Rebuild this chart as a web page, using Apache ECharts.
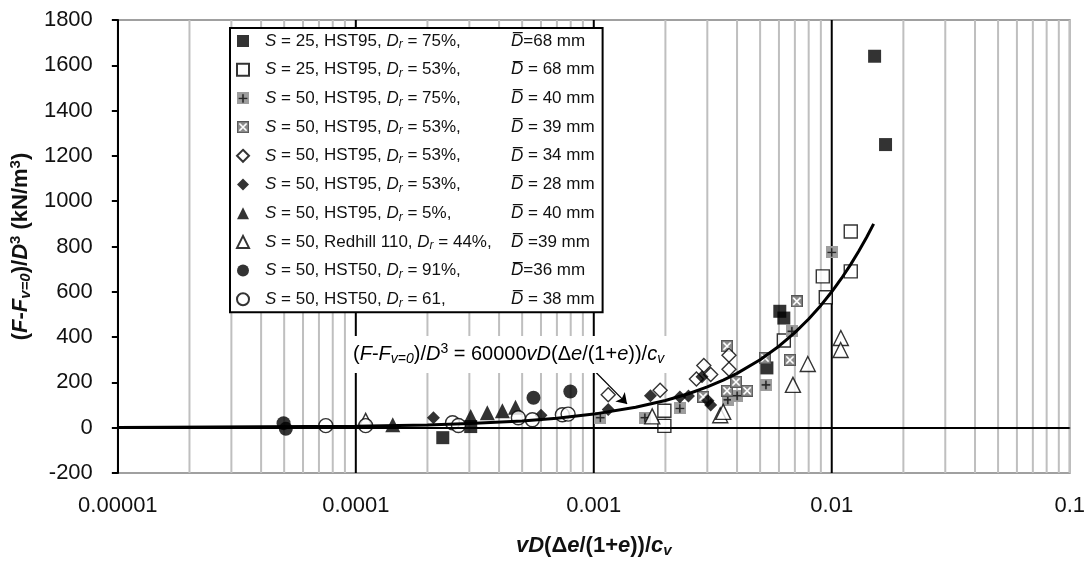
<!DOCTYPE html>
<html>
<head>
<meta charset="utf-8">
<script src="https://cdn.jsdelivr.net/npm/echarts@6/dist/echarts.min.js"></script>
<style>
  html, body { margin: 0; padding: 0; background: #fff; }
  #chart { width: 1088px; height: 563px; }
</style>
</head>
<body>
<div id="chart"></div>
<script>
// Axis ticks
const xTickLabels = ['0.00001', '0.0001', '0.001', '0.01', '0.1'];
const yMin = -200, yMax = 1800, yStep = 200;

// Legend text pieces, one entry per series
const legendS    = ['25', '25', '50', '50', '50', '50', '50', '50', '50', '50'];
const legendSoil = ['HST95', 'HST95', 'HST95', 'HST95', 'HST95', 'HST95', 'HST95', 'Redhill 110', 'HST50', 'HST50'];
const legendDr   = ['75%,', '53%,', '75%,', '53%,', '53%,', '53%,', '5%,', '44%,', '91%,', '61,'];
const legendDbar = ['=68 mm', ' = 68 mm', ' = 40 mm', ' = 39 mm', ' = 34 mm', ' = 28 mm', ' = 40 mm', ' =39 mm', '=36 mm', ' = 38 mm'];

// Measured points [vD(Δe/(1+e))/c_v, (F-F_v=0)/D^3]
const s25Hst95Dr75 = [[0.000232, -44], [0.000304, 5], [0.00534, 264], [0.00605, 514], [0.00629, 484], [0.01514, 1640], [0.01683, 1250]];
const s25Hst95Dr53 = [[0.00198, 75], [0.00198, 8], [0.00629, 385], [0.00917, 668], [0.00944, 576], [0.01202, 866], [0.01202, 690]];
const s50Hst95Dr75 = [[0.001065, 44], [0.00164, 44], [0.0023, 85], [0.00366, 123], [0.004, 141], [0.00529, 189], [0.0068, 426], [0.0100, 774]];
const s50Hst95Dr53D39 = [[0.00288, 136], [0.00363, 360], [0.00363, 163], [0.00396, 202], [0.00441, 163], [0.00524, 308], [0.00667, 299], [0.00713, 558]];
const s50Hst95Dr53D34 = [[0.00115, 145], [0.0019, 165], [0.0027, 215], [0.0029, 275], [0.0031, 235], [0.0037, 320], [0.0037, 258]];
const s50Hst95Dr53D28 = [[0.000212, 44], [0.0006, 55], [0.00115, 80], [0.00173, 141], [0.0023, 136], [0.0025, 140], [0.00285, 225], [0.00302, 119], [0.0031, 100]];
const s50Hst95Dr5 = [[0.000143, 13], [0.000304, 50], [0.000357, 66], [0.000413, 75], [0.000469, 90]];
const s50Redhill110 = [[0.00011, 30], [0.00176, 50], [0.0034, 55], [0.0035, 70], [0.00687, 189], [0.00793, 281], [0.01092, 396], [0.0109, 343]];
const s50Hst50Dr91 = [[0.0000497, 20], [0.0000508, -5], [0.000558, 132], [0.000797, 160]];
const s50Hst50Dr61 = [[0.0000748, 9], [0.00011, 9], [0.000255, 22], [0.00027, 10], [0.000482, 44], [0.000552, 35], [0.000738, 57], [0.00078, 60]];

// Fitted relation (F-F_v=0)/D^3 = 60000 vD(Δe/(1+e))/c_v
const fitX = [0.00001, 0.0001, 0.0002, 0.0003, 0.0005, 0.0007, 0.001, 0.0015, 0.002, 0.0025, 0.003, 0.0035, 0.004, 0.005, 0.006, 0.007, 0.008, 0.009, 0.01, 0.011, 0.012, 0.013, 0.014, 0.015];
const fitY = [0.6, 6, 12, 18, 30, 42, 60, 90, 120, 150, 180, 210, 240, 300, 360, 420, 480, 540, 600, 660, 720, 780, 840, 900];

// Callout arrow from the equation to the fitted line
const arrowFrom = [0.00102, 245];
const arrowTo = [0.00138, 105];

// Gridline positions on the log axis
const minorGridX = [
  2e-5, 3e-5, 4e-5, 5e-5, 6e-5, 7e-5, 8e-5, 9e-5,
  2e-4, 3e-4, 4e-4, 5e-4, 6e-4, 7e-4, 8e-4, 9e-4,
  2e-3, 3e-3, 4e-3, 5e-3, 6e-3, 7e-3, 8e-3, 9e-3,
  2e-2, 3e-2, 4e-2, 5e-2, 6e-2, 7e-2, 8e-2, 9e-2, 1e-1
];
const majorGridX = [1e-4, 1e-3, 1e-2];

const FONT = '"Liberation Sans", Arial, Helvetica, sans-serif';
const INK = '#111';

// Composite marker images (gray square with a cross / with an X)
function markerImage(kind) {
  const s = 36, c = document.createElement('canvas');
  c.width = s; c.height = s;
  const g = c.getContext('2d');
  if (kind === 'plus') {
    g.fillStyle = '#9d9d9d';
    g.fillRect(0, 0, s, s);
    g.strokeStyle = '#262626';
    g.lineWidth = 4.5;
    g.beginPath();
    g.moveTo(s / 2, 5); g.lineTo(s / 2, s - 5);
    g.moveTo(5, s / 2); g.lineTo(s - 5, s / 2);
    g.stroke();
  } else {
    g.fillStyle = '#8a8a8a';
    g.fillRect(0, 0, s, s);
    g.strokeStyle = '#ffffff';
    g.lineWidth = 5;
    g.beginPath();
    g.moveTo(7, 7); g.lineTo(s - 7, s - 7);
    g.moveTo(s - 7, 7); g.lineTo(7, s - 7);
    g.stroke();
    g.strokeStyle = '#555';
    g.lineWidth = 3;
    g.strokeRect(1.5, 1.5, s - 3, s - 3);
  }
  return 'image://' + c.toDataURL();
}

// Text measuring for the legend's second column
const mctx = document.createElement('canvas').getContext('2d');
function tw(txt, style, size) {
  mctx.font = style + ' normal ' + size + 'px ' + FONT;
  return mctx.measureText(txt).width;
}

const LEG_SIZE = 17, LEG_SUB = 12, LEAD = 11, COL2 = 246;
const legendRich = {
  n: { fontFamily: FONT, fontSize: LEG_SIZE, color: INK, lineHeight: 20 },
  i: { fontFamily: FONT, fontSize: LEG_SIZE, fontStyle: 'italic', color: INK, lineHeight: 20 },
  sub: { fontFamily: FONT, fontSize: LEG_SUB, fontStyle: 'italic', color: INK, lineHeight: 12, verticalAlign: 'bottom' },
  lead: { width: LEAD, fontSize: LEG_SIZE, lineHeight: 20 }
};
const seriesNames = [];
const legendText = {};
legendS.forEach(function (s, k) {
  const name = 'S = ' + s + ', ' + legendSoil[k] + ', Dr = ' + legendDr[k] + ' D' + legendDbar[k];
  seriesNames.push(name);
  const p1 = ' = ' + s + ', ' + legendSoil[k] + ', ';
  const p2 = ' = ' + legendDr[k];
  const used = tw('S', 'italic', LEG_SIZE) + tw(p1, 'normal', LEG_SIZE) + tw('D', 'italic', LEG_SIZE) +
               tw('r', 'italic', LEG_SUB) + tw(p2, 'normal', LEG_SIZE);
  legendRich['sp' + k] = { width: Math.max(3, COL2 - used), fontSize: LEG_SIZE, lineHeight: 20 };
  legendText[name] = '{lead| }{i|S}{n|' + p1 + '}{i|D}{sub|r}{n|' + p2 + '}{sp' + k + '| }{i|D\u0305}{n|' + legendDbar[k] + '}';
});

const pointSets = [s25Hst95Dr75, s25Hst95Dr53, s50Hst95Dr75, s50Hst95Dr53D39, s50Hst95Dr53D34,
                   s50Hst95Dr53D28, s50Hst95Dr5, s50Redhill110, s50Hst50Dr91, s50Hst50Dr61];
const filled = { color: '#000', borderColor: '#000', borderWidth: 0 };
const hollow = { color: '#fff', borderColor: '#000', borderWidth: 1.4 };
const markerStyles = [
  { symbol: 'rect', symbolSize: 13, itemStyle: filled },
  { symbol: 'rect', symbolSize: 13, itemStyle: hollow },
  { symbol: markerImage('plus'), symbolSize: 12, itemStyle: { opacity: 1 } },
  { symbol: markerImage('x'), symbolSize: 12, itemStyle: { opacity: 1 } },
  { symbol: 'diamond', symbolSize: 14, itemStyle: hollow },
  { symbol: 'diamond', symbolSize: 13, itemStyle: filled },
  { symbol: 'triangle', symbolSize: 15, itemStyle: filled },
  { symbol: 'triangle', symbolSize: 15, itemStyle: hollow },
  { symbol: 'circle', symbolSize: 14, itemStyle: filled },
  { symbol: 'circle', symbolSize: 14, itemStyle: hollow }
];

// Vertical gridlines as broken polylines: bottom→top for each position, split by gaps
function verticalSegments(xs) {
  const out = [];
  xs.forEach(function (x) { out.push([x, yMin], [x, yMax], [x, null]); });
  return out;
}

const series = [];

series.push({
  type: 'line', name: 'minor grid', silent: true, z: 1, symbol: 'none', connectNulls: false,
  data: verticalSegments(minorGridX),
  lineStyle: { color: '#bfbfbf', width: 2 }
});
series.push({
  type: 'line', name: 'major grid', silent: true, z: 1, symbol: 'none', connectNulls: false,
  data: verticalSegments(majorGridX),
  lineStyle: { color: '#000', width: 2 },
  markLine: {
    silent: true, symbol: 'none', animation: false, label: { show: false },
    lineStyle: { color: '#000', width: 2, type: 'solid' },
    data: [{ yAxis: 0 }]
  }
});

pointSets.forEach(function (pts, k) {
  series.push({
    type: 'scatter', name: seriesNames[k], data: pts, z: 3,
    symbol: markerStyles[k].symbol, symbolSize: markerStyles[k].symbolSize,
    symbolKeepAspect: true,
    itemStyle: markerStyles[k].itemStyle
  });
});

series.push({
  type: 'line', name: 'fit', z: 4, silent: true,
  data: fitX.map(function (x, k) { return [x, fitY[k]]; }),
  showSymbol: false, symbol: 'none',
  lineStyle: { color: '#000', width: 3 },
  markLine: {
    silent: true, animation: false, symbol: ['none', 'arrow'], symbolSize: 10,
    label: { show: false },
    lineStyle: { color: '#000', width: 1.2, type: 'solid' },
    data: [[{ coord: arrowFrom }, { coord: arrowTo }]]
  }
});

const TS = 22;
const titleRich = {
  b:    { fontFamily: FONT, fontSize: TS, fontWeight: 'bold', color: INK, lineHeight: 25 },
  bi:   { fontFamily: FONT, fontSize: TS, fontWeight: 'bold', fontStyle: 'italic', color: INK, lineHeight: 25 },
  bsub: { fontFamily: FONT, fontSize: 15, fontWeight: 'bold', fontStyle: 'italic', color: INK, lineHeight: 15, verticalAlign: 'bottom' },
  bsup: { fontFamily: FONT, fontSize: 15, fontWeight: 'bold', color: INK, lineHeight: 15, verticalAlign: 'top' }
};
const eqRich = {
  n:   { fontFamily: FONT, fontSize: 20, color: INK, lineHeight: 24 },
  i:   { fontFamily: FONT, fontSize: 20, fontStyle: 'italic', color: INK, lineHeight: 24 },
  sub: { fontFamily: FONT, fontSize: 14, fontStyle: 'italic', color: INK, lineHeight: 14, verticalAlign: 'bottom' },
  sup: { fontFamily: FONT, fontSize: 14, color: INK, lineHeight: 14, verticalAlign: 'top' }
};

const chart = echarts.init(document.getElementById('chart'), null, { renderer: 'canvas' });
chart.setOption({
  animation: false,
  backgroundColor: '#fff',
  grid: { left: 117, right: 18, top: 20, bottom: 88, show: true, borderColor: '#a0a0a0', borderWidth: 2, backgroundColor: 'transparent' },
  xAxis: {
    type: 'log', logBase: 10, min: 0.00001, max: 0.1,
    axisLine: { lineStyle: { color: '#000', width: 2 } },
    axisTick: { show: false },
    splitLine: { show: false },
    axisLabel: {
      fontFamily: FONT, fontSize: 22, color: INK, margin: 22,
      formatter: function (v) { const k = Math.round(Math.log10(v)) + 5; return xTickLabels[k] || ''; }
    },
    name: '{bi|vD}{b|(Δ}{bi|e}{b|/(1+}{bi|e}{b|))/}{bi|c}{bsub|v}',
    nameLocation: 'middle', nameGap: 60,
    nameTextStyle: { rich: titleRich }
  },
  yAxis: {
    type: 'value', min: yMin, max: yMax, interval: yStep,
    axisLine: { show: true, lineStyle: { color: '#000', width: 2 } },
    axisTick: { show: true, length: 6, inside: false, lineStyle: { color: '#000', width: 2 } },
    splitLine: { show: false },
    axisLabel: { fontFamily: FONT, fontSize: 22, color: INK, margin: 25, formatter: function (v) { return String(v); } },
    name: '{b|(}{bi|F}{b|-}{bi|F}{bsub|v=0}{b|)/}{bi|D}{bsup|3}{b| (kN/m}{bsup|3}{b|)}',
    nameLocation: 'middle', nameGap: 82, nameRotate: 90,
    nameTextStyle: { rich: titleRich }
  },
  legend: {
    data: seriesNames,
    orient: 'vertical', left: 230, top: 28,
    backgroundColor: '#fff', borderColor: '#000', borderWidth: 2,
    padding: [3, 8, 3, 6],
    itemWidth: 12, itemHeight: 12, itemGap: 8.7,
    selectedMode: false,
    textStyle: { fontFamily: FONT, fontSize: LEG_SIZE, color: INK, lineHeight: 20, rich: legendRich },
    formatter: function (name) { return legendText[name] || name; }
  },
  graphic: [{
    type: 'text', left: 349, top: 336, z: 100,
    style: {
      text: '{n|(}{i|F}{n|-}{i|F}{sub|v=0}{n|)/}{i|D}{sup|3}{n| = 60000}{i|vD}{n|(Δ}{i|e}{n|/(1+}{i|e}{n|))/}{i|c}{sub|v}',
      rich: eqRich, backgroundColor: '#fff', padding: [6, 20, 7, 4]
    }
  }],
  series: series
});
</script>
</body>
</html>
